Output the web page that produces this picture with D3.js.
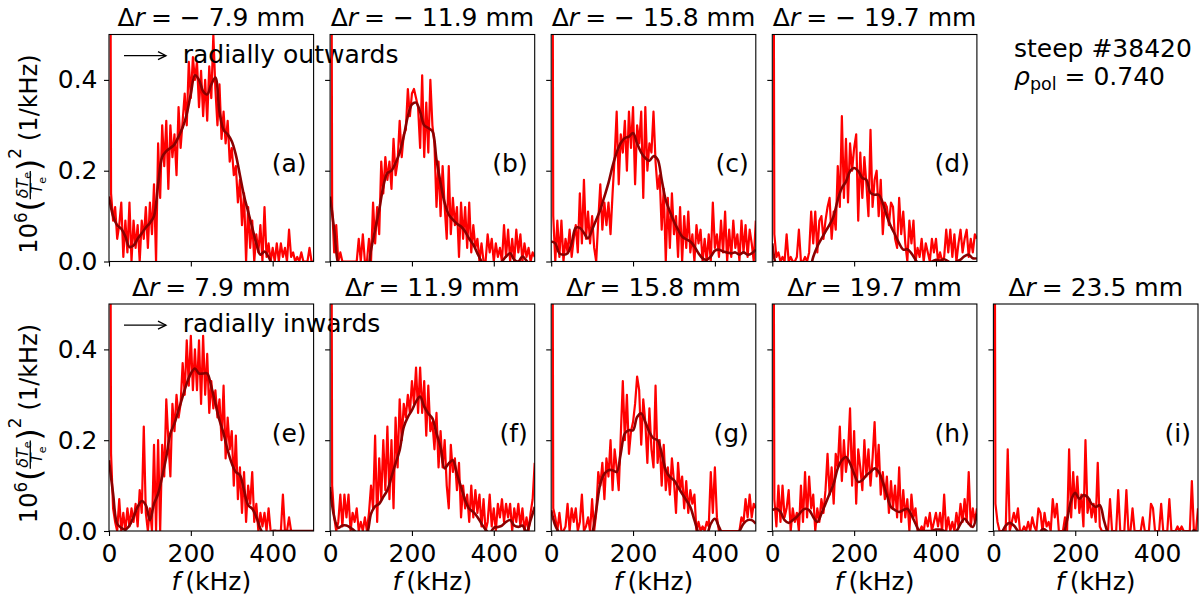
<!DOCTYPE html>
<html><head><meta charset="utf-8">
<script src="https://cdn.jsdelivr.net/npm/d3@7"></script>
<style>
body{margin:0;background:#fff}
text{font-family:"DejaVu Sans",sans-serif;fill:#000}
</style></head>
<body><svg id="c" width="1200" height="603"></svg>
<script>
// ---------------- DATA ----------------
const freqStep = 5;          // spectrum bin (kHz)
const smoothStep = 10;       // smoothed-curve bin (kHz)
const drValues = [-7.9, -11.9, -15.8, -19.7, 7.9, 11.9, 15.8, 19.7, 23.5];
const panelTags = ["(a)","(b)","(c)","(d)","(e)","(f)","(g)","(h)","(i)"];
const xTicks = [0, 200, 400];
const yTicks = [0.0, 0.2, 0.4];

const specA = [2.0,0.15,0.09,0.12,0.05,0.08,0.13,0.01,0.09,0.02,
 0.13,0.0,0.09,0.03,0.08,0.0,0.09,0.05,0.12,0.03,
 0.13,0.06,0.17,0.0,0.26,0.14,0.30,0.21,0.31,0.16,
 0.30,0.23,0.28,0.19,0.34,0.25,0.31,0.37,0.30,0.44,
 0.36,0.45,0.40,0.44,0.34,0.42,0.32,0.40,0.31,0.43,
 0.36,0.50,0.38,0.30,0.39,0.27,0.33,0.26,0.31,0.22,
 0.25,0.19,0.21,0.13,0.18,0.08,0.15,0.0,0.12,0.03,
 0.09,0.0,0.06,0.02,0.08,0.0,0.12,0.01,0.04,0.0,
 0.03,0.0,0.04,0.0,0.04,0.01,0.03,0.0,0.07,0.01,
 0.02,0.0,0.01,0.0,0.02,0.0,0.0,0.0,0.03,0.0,
 0.0];
const specB = [2.0,0.12,0.02,0.08,0.0,0.02,0.0,0.0,0.0,0.0,
 0.0,0.0,0.0,0.0,0.05,0.0,0.06,0.0,0.0,0.05,
 0.0,0.13,0.04,0.12,0.06,0.22,0.15,0.23,0.18,0.22,
 0.16,0.27,0.19,0.22,0.31,0.23,0.28,0.29,0.38,0.32,
 0.37,0.38,0.36,0.34,0.25,0.41,0.23,0.35,0.24,0.40,
 0.30,0.26,0.12,0.22,0.10,0.21,0.12,0.05,0.21,0.06,
 0.14,0.08,0.12,0.01,0.13,0.05,0.12,0.03,0.13,0.02,
 0.08,0.03,0.05,0.0,0.04,0.0,0.0,0.06,0.02,0.05,
 0.0,0.04,0.01,0.03,0.0,0.08,0.01,0.07,0.0,0.05,
 0.0,0.07,0.02,0.06,0.0,0.04,0.01,0.03,0.0,0.02,
 0.01];
const specC = [2.0,0.10,0.0,0.09,0.01,0.09,0.0,0.05,0.02,0.07,
 0.01,0.05,0.08,0.02,0.15,0.04,0.18,0.05,0.11,0.04,
 0.10,0.03,0.0,0.09,0.17,0.07,0.13,0.08,0.13,0.06,
 0.15,0.23,0.33,0.17,0.28,0.24,0.31,0.20,0.33,0.25,
 0.34,0.17,0.30,0.26,0.33,0.14,0.34,0.20,0.26,0.24,
 0.33,0.22,0.16,0.19,0.07,0.16,0.0,0.14,0.03,0.15,
 0.06,0.10,0.01,0.12,0.0,0.10,0.03,0.11,0.02,0.06,
 0.0,0.08,0.04,0.07,0.0,0.05,0.0,0.06,0.0,0.13,
 0.03,0.06,0.01,0.09,0.02,0.11,0.0,0.07,0.01,0.09,
 0.03,0.06,0.0,0.09,0.02,0.08,0.01,0.07,0.04,0.0,
 0.09];
const specD = [2.0,0.06,0.01,0.02,0.0,0.01,0.0,0.06,0.0,0.01,
 0.0,0.0,0.01,0.07,0.0,0.0,0.01,0.0,0.02,0.11,
 0.04,0.11,0.02,0.09,0.10,0.05,0.09,0.12,0.14,0.05,
 0.11,0.07,0.21,0.12,0.32,0.14,0.27,0.13,0.26,0.20,
 0.25,0.28,0.09,0.24,0.14,0.23,0.17,0.10,0.29,0.12,
 0.18,0.20,0.10,0.18,0.06,0.13,0.12,0.08,0.13,0.12,
 0.05,0.03,0.14,0.06,0.11,0.04,0.0,0.09,0.04,0.09,
 0.0,0.03,0.01,0.05,0.0,0.04,0.02,0.0,0.05,0.02,
 0.05,0.0,0.02,0.0,0.01,0.07,0.02,0.07,0.01,0.06,
 0.0,0.04,0.07,0.02,0.05,0.07,0.01,0.05,0.02,0.06,
 0.05];
const specE = [2.0,0.17,0.05,0.02,0.0,0.07,0.0,0.04,0.0,0.05,
 0.01,0.05,0.02,0.06,0.01,0.09,0.04,0.23,0.04,0.0,
 0.05,0.0,0.19,0.0,0.20,0.0,0.19,0.12,0.29,0.20,
 0.12,0.28,0.22,0.30,0.25,0.28,0.37,0.30,0.42,0.32,
 0.43,0.31,0.40,0.31,0.42,0.28,0.43,0.30,0.39,0.26,
 0.33,0.27,0.31,0.25,0.29,0.20,0.32,0.16,0.25,0.18,
 0.22,0.10,0.21,0.07,0.14,0.04,0.13,0.02,0.10,0.06,
 0.13,0.02,0.06,0.0,0.04,0.01,0.04,0.0,0.05,0.0,
 0.0,0.0,0.0,0.0,0.0,0.08,0.0,0.0,0.03,0.0,
 0.0,0.0,0.0,0.0,0.0,0.0,0.0,0.0,0.0,0.0,
 0.0];
const specF = [2.0,0.10,0.03,0.0,0.02,0.08,0.01,0.08,0.03,0.08,
 0.0,0.04,0.02,0.05,0.0,0.02,0.0,0.03,0.0,0.04,
 0.10,0.05,0.21,0.02,0.16,0.07,0.20,0.09,0.23,0.07,
 0.20,0.05,0.25,0.14,0.29,0.20,0.28,0.25,0.30,0.26,
 0.33,0.28,0.36,0.26,0.36,0.26,0.33,0.21,0.32,0.22,
 0.24,0.18,0.26,0.14,0.22,0.14,0.20,0.10,0.05,0.19,
 0.13,0.16,0.09,0.15,0.03,0.10,0.05,0.08,0.02,0.10,
 0.03,0.09,0.04,0.08,0.01,0.07,0.0,0.02,0.08,0.01,
 0.05,0.0,0.06,0.03,0.07,0.02,0.06,0.03,0.06,0.0,
 0.05,0.02,0.06,0.01,0.05,0.0,0.03,0.0,0.04,0.07,
 0.15];
const specG = [2.0,0.05,0.03,0.0,0.04,0.0,0.0,0.01,0.06,0.0,
 0.05,0.02,0.05,0.0,0.02,0.08,0.0,0.01,0.03,0.0,
 0.07,0.0,0.04,0.13,0.10,0.15,0.07,0.16,0.12,0.20,
 0.09,0.18,0.14,0.09,0.21,0.33,0.20,0.30,0.17,0.22,
 0.24,0.28,0.34,0.31,0.19,0.29,0.24,0.15,0.27,0.18,
 0.14,0.32,0.15,0.20,0.10,0.19,0.09,0.14,0.08,0.16,
 0.11,0.04,0.15,0.09,0.12,0.05,0.11,0.04,0.09,0.06,
 0.08,0.0,0.02,0.0,0.01,0.0,0.02,0.01,0.13,0.04,
 0.14,0.03,0.0,0.0,0.0,0.0,0.0,0.0,0.0,0.0,
 0.0,0.0,0.0,0.03,0.02,0.07,0.03,0.08,0.03,0.06,
 0.05];
const specH = [2.0,0.07,0.01,0.10,0.02,0.10,0.03,0.05,0.09,0.0,
 0.05,0.02,0.04,0.0,0.10,0.02,0.13,0.03,0.12,0.05,
 0.08,0.0,0.05,0.02,0.07,0.04,0.09,0.17,0.08,0.14,
 0.06,0.17,0.14,0.23,0.11,0.20,0.13,0.17,0.27,0.10,
 0.22,0.06,0.18,0.14,0.09,0.20,0.12,0.18,0.10,0.16,
 0.24,0.12,0.19,0.08,0.13,0.07,0.12,0.04,0.11,0.05,
 0.10,0.03,0.14,0.02,0.09,0.03,0.07,0.0,0.08,0.03,
 0.05,0.0,0.0,0.01,0.0,0.03,0.01,0.04,0.0,0.02,
 0.04,0.01,0.04,0.0,0.08,0.0,0.03,0.0,0.02,0.0,
 0.04,0.01,0.06,0.02,0.07,0.02,0.13,0.01,0.05,0.02,
 0.05];
const specI = [2.0,0.06,0.02,0.0,0.0,0.0,0.0,0.18,0.0,0.02,
 0.04,0.02,0.05,0.0,0.0,0.01,0.0,0.02,0.0,0.03,
 0.01,0.0,0.05,0.04,0.0,0.04,0.01,0.02,0.0,0.07,
 0.03,0.06,0.0,0.0,0.0,0.03,0.0,0.18,0.03,0.13,
 0.05,0.12,0.04,0.08,0.01,0.20,0.04,0.07,0.03,0.06,
 0.02,0.15,0.01,0.0,0.0,0.0,0.0,0.07,0.0,0.0,
 0.0,0.09,0.0,0.0,0.0,0.09,0.0,0.0,0.05,0.0,
 0.0,0.0,0.0,0.03,0.0,0.0,0.0,0.06,0.05,0.0,
 0.0,0.0,0.06,0.0,0.0,0.0,0.07,0.0,0.0,0.0,
 0.01,0.0,0.01,0.0,0.0,0.0,0.0,0.11,0.0,0.0,
 0.05];

const smoothA = [0.143,0.10,0.08,0.072,0.055,0.032,0.035,0.05,0.062,0.075,
 0.085,0.10,0.17,0.23,0.243,0.25,0.258,0.275,0.295,0.325,
 0.37,0.41,0.40,0.375,0.368,0.39,0.405,0.33,0.29,0.28,
 0.265,0.235,0.19,0.145,0.11,0.075,0.04,0.015,0.022,0.01,
 -0.01,-0.02,-0.02,-0.02,-0.02,-0.02,-0.02,-0.02,-0.02,-0.02,-0.02];
const smoothB = [0.143,0.07,-0.005,-0.02,-0.02,-0.02,-0.02,-0.02,-0.02,-0.02,
 0.026,0.07,0.114,0.165,0.195,0.20,0.217,0.24,0.276,0.32,
 0.346,0.35,0.33,0.30,0.294,0.287,0.224,0.173,0.129,0.103,
 0.092,0.083,0.077,0.066,0.05,0.037,0.018,0.0,-0.02,-0.02,
 -0.02,-0.01,0.0,0.011,0.018,0.004,0.0,0.011,0.002,-0.01,-0.01];
const smoothC = [0.044,0.04,0.018,0.015,0.018,0.04,0.074,0.074,0.063,0.051,
 0.07,0.092,0.114,0.143,0.173,0.21,0.24,0.261,0.272,0.275,
 0.283,0.26,0.24,0.228,0.222,0.232,0.225,0.18,0.135,0.11,
 0.088,0.07,0.055,0.049,0.044,0.033,0.018,0.007,0.004,0.011,
 0.024,0.026,0.022,0.02,0.018,0.02,0.015,0.02,0.015,0.018,0.026];
const smoothD = [0.04,-0.01,-0.02,-0.02,-0.02,-0.02,-0.02,-0.02,-0.02,-0.02,
 0.01,0.033,0.05,0.066,0.081,0.10,0.136,0.162,0.176,0.199,
 0.206,0.199,0.184,0.18,0.151,0.147,0.147,0.129,0.10,0.077,
 0.059,0.04,0.026,0.027,0.018,0.004,-0.01,-0.02,-0.01,0.0,
 0.004,0.002,0.005,0.0,-0.005,0.0,0.004,0.012,0.015,0.007,0.007];
const smoothE = [0.156,0.082,0.016,0.007,0.003,0.012,0.031,0.053,0.066,0.057,
 0.024,0.06,0.082,0.12,0.163,0.215,0.237,0.266,0.296,0.325,
 0.347,0.358,0.347,0.347,0.347,0.318,0.281,0.244,0.215,0.178,
 0.149,0.13,0.123,0.09,0.057,0.049,0.031,0.005,-0.01,-0.01,
 0.0,0.0,0.0,0.0,0.0,0.0,0.0,0.0,0.0,0.0,0.0];
const smoothF = [0.097,0.031,0.007,0.012,0.012,0.007,0.0,-0.01,-0.01,-0.005,
 0.038,0.054,0.06,0.075,0.09,0.119,0.149,0.178,0.229,0.251,
 0.266,0.285,0.296,0.274,0.259,0.248,0.215,0.184,0.138,0.149,
 0.156,0.126,0.097,0.068,0.049,0.042,0.031,0.016,0.003,-0.005,
 0.007,0.009,0.012,0.02,0.024,0.012,0.009,0.012,-0.002,0.024,0.053];
const smoothG = [0.046,0.012,-0.005,-0.02,-0.02,-0.02,-0.02,-0.02,-0.02,-0.02,
 -0.005,0.046,0.104,0.126,0.134,0.134,0.13,0.171,0.215,0.222,
 0.222,0.251,0.259,0.24,0.218,0.204,0.2,0.171,0.134,0.119,
 0.112,0.097,0.082,0.068,0.053,0.024,-0.005,-0.02,-0.01,0.016,
 0.027,0.009,-0.01,-0.02,-0.02,-0.01,0.0,0.016,0.024,0.024,0.016];
const smoothH = [0.046,0.049,0.042,0.024,0.018,0.024,0.031,0.042,0.049,0.046,
 0.031,0.02,0.038,0.06,0.082,0.104,0.138,0.156,0.163,0.149,
 0.126,0.108,0.112,0.123,0.13,0.138,0.13,0.108,0.079,0.053,
 0.046,0.042,0.046,0.049,0.035,0.016,0.0,0.0,0.0,0.0,
 0.003,0.003,0.0,-0.005,-0.005,0.0,0.016,0.027,0.016,0.009,0.038];
const smoothI = [-0.02,-0.02,-0.005,0.012,0.018,0.012,0.0,-0.01,-0.02,-0.02,
 -0.02,-0.01,0.004,0.0,-0.02,-0.02,-0.02,-0.01,0.024,0.068,
 0.084,0.071,0.079,0.075,0.06,0.053,0.057,0.024,-0.005,-0.02,
 -0.02,-0.02,-0.02,-0.02,-0.02,-0.02,-0.02,-0.02,-0.02,-0.02,
 -0.02,-0.02,-0.02,-0.02,-0.02,-0.02,-0.02,-0.02,-0.02,0.002,-0.01];

const spectra = [specA,specB,specC,specD,specE,specF,specG,specH,specI];
const smooths = [smoothA,smoothB,smoothC,smoothD,smoothE,smoothF,smoothG,smoothH,smoothI];
const gridPos = [[0,0],[0,1],[0,2],[0,3],[1,0],[1,1],[1,2],[1,3],[1,4]];

// ---------------- LAYOUT ----------------
const svg = d3.select('#c');
const FS = 25;
const PW = 204.6, PH = 227;
const colLeft = c => 109 + c * 221.1;
const rowTop = [34.5, 304];

const x = d3.scaleLinear().domain([0, 500]).range([0, PW]);
const y = d3.scaleLinear().domain([0, 0.5]).range([PH, 0]);

function fmtDr(d) {
  return d < 0 ? '\u2212 ' + Math.abs(d).toFixed(1) : d.toFixed(1);
}

gridPos.forEach(([r, c], i) => {
  const L = colLeft(c), T = rowTop[r];
  const g = svg.append('g').attr('transform', `translate(${L},${T})`);
  const cid = 'clip' + i;
  g.append('clipPath').attr('id', cid).append('rect').attr('width', PW).attr('height', PH);

  const pg = g.append('g').attr('clip-path', `url(#${cid})`);
  const spec = spectra[i].map((v, k) => [k * freqStep, v]);
  const sm = smooths[i].map((v, k) => [k * smoothStep, v]);
  pg.append('path').datum(spec)
    .attr('fill', 'none').attr('stroke', '#ff0000').attr('stroke-width', 2.2)
    .attr('stroke-linejoin', 'round')
    .attr('d', d3.line().x(d => x(d[0])).y(d => y(d[1])));
  pg.append('path').datum(sm)
    .attr('fill', 'none').attr('stroke', '#8b0000').attr('stroke-width', 2.6)
    .attr('d', d3.line().curve(d3.curveCatmullRom).x(d => x(d[0])).y(d => y(d[1])));

  // axes
  const xa = d3.axisBottom(x).tickValues(xTicks).tickSize(5).tickPadding(8.5)
    .tickFormat(r === 1 ? d3.format('d') : () => '');
  const gx = g.append('g').attr('transform', `translate(0,${PH})`).call(xa);
  const ya = d3.axisLeft(y).tickValues(yTicks).tickSize(5).tickPadding(6.5)
    .tickFormat(c === 0 ? d3.format('.1f') : () => '');
  const gy = g.append('g').call(ya);
  [gx, gy].forEach(a => {
    a.select('.domain').remove();
    a.selectAll('line').attr('stroke', '#000').attr('stroke-width', 1.1);
    a.selectAll('text').attr('font-size', FS).attr('font-family', 'DejaVu Sans').attr('fill', '#000');
  });

  // spines
  g.append('rect').attr('width', PW).attr('height', PH)
    .attr('fill', 'none').attr('stroke', '#000').attr('stroke-width', 1.1);

  // title
  const t = g.append('text').attr('x', PW / 2).attr('y', -8.5)
    .attr('text-anchor', 'middle').attr('font-size', FS);
  t.append('tspan').text('\u0394');
  t.append('tspan').attr('font-style', 'italic').text('r');
  t.append('tspan').attr('dx', 6).text('= ' + fmtDr(drValues[i]) + ' mm');

  // panel tag
  g.append('text').attr('x', PW - 7).attr('y', 137.5)
    .attr('text-anchor', 'end').attr('font-size', FS).text(panelTags[i]);

  // x label
  if (r === 1) {
    const xl = g.append('text').attr('x', PW / 2).attr('y', 590 - T)
      .attr('text-anchor', 'middle').attr('font-size', FS);
    xl.append('tspan').attr('font-style', 'italic').text('f');
    xl.append('tspan').text('\u2009(kHz)');
  }

  // arrow annotation
  if (c === 0) {
    const ay = 21.2;
    g.append('line').attr('x1', 15).attr('x2', 57).attr('y1', ay).attr('y2', ay)
      .attr('stroke', '#000').attr('stroke-width', 1.3);
    g.append('path').attr('d', `M49,${ay - 4}L57,${ay}L49,${ay + 4}`)
      .attr('fill', 'none').attr('stroke', '#000').attr('stroke-width', 1.3);
    g.append('text').attr('x', 73.7).attr('y', 28.3).attr('font-size', FS)
      .text(r === 0 ? 'radially outwards' : 'radially inwards');
  }
});

// y labels
function drawYLabel(cx, cy) {
  const g = svg.append('g').attr('transform', `translate(${cx},${cy}) rotate(-90)`);
  const inner = g.append('g');
  const F = 24;
  let px = 0;
  function put(txt, size, yy) {
    const t = inner.append('text').attr('x', px).attr('y', yy).attr('font-size', size).text(txt);
    px += t.node().getComputedTextLength();
  }
  put('10', F, 0);
  put('6', F * 0.7, -F * 0.42);
  px += 1;
  const axisY = -F * 0.28;
  const pSize = F * 1.3;
  const pShift = axisY + pSize * 0.315;   // centre paren on math axis
  put('(', pSize, pShift);
  const fs = F * 0.66;
  const num = inner.append('text').attr('y', axisY - 2.5).attr('font-size', fs);
  num.append('tspan').attr('font-style', 'italic').text('\u03b4T');
  num.append('tspan').attr('font-size', fs * 0.7).attr('dy', fs * 0.2).text('e');
  const den = inner.append('text').attr('y', axisY + fs * 0.76).attr('font-size', fs);
  den.append('tspan').attr('font-style', 'italic').text('T');
  den.append('tspan').attr('font-size', fs * 0.7).attr('dy', fs * 0.2).text('e');
  const nw = num.node().getComputedTextLength();
  const dw = den.node().getComputedTextLength();
  const fw = Math.max(nw, dw) + 2;
  num.attr('x', px + (fw - nw) / 2);
  den.attr('x', px + (fw - dw) / 2);
  inner.append('line').attr('x1', px).attr('x2', px + fw).attr('y1', axisY).attr('y2', axisY)
    .attr('stroke', '#000').attr('stroke-width', 1.3);
  px += fw;
  put(')', pSize, pShift);
  put('2', F * 0.7, -F * 0.66);
  px += F * 0.3;
  put('(1/kHz)', F, 0);
  inner.attr('transform', `translate(${-px / 2},0)`);
}
drawYLabel(37, rowTop[0] + PH / 2 + 6);
drawYLabel(37, rowTop[1] + PH / 2 + 6);

// info text
const info = svg.append('g');
info.append('text').attr('x', 1014).attr('y', 56.5).attr('font-size', FS).text('steep #38420');
const rho = info.append('text').attr('x', 1014).attr('y', 85).attr('font-size', FS);
rho.append('tspan').attr('font-style', 'italic').text('\u03c1');
rho.append('tspan').attr('font-size', FS * 0.7).attr('dy', 5).text('pol');
rho.append('tspan').attr('dy', -5).text(' = 0.740');
</script>
</body></html>
